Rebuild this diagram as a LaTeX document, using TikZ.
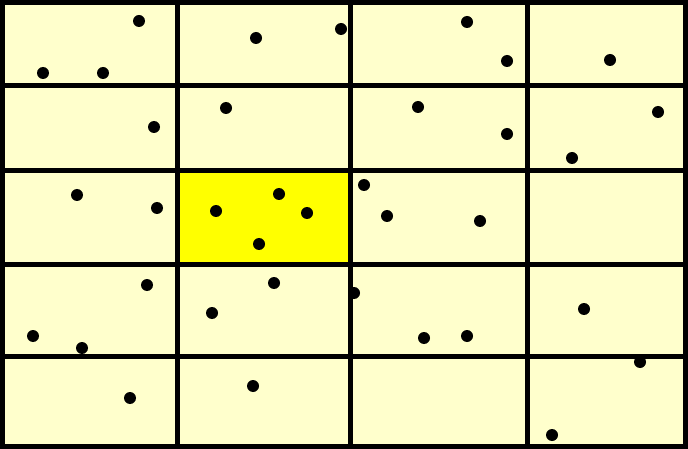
\documentclass[tikz,border=0pt]{standalone}
\begin{document}
\begin{tikzpicture}[x=1pt,y=-1pt,
  gridline/.style={line width=5pt,black},
  dot/.style={fill=black}]
\definecolor{paleyellow}{RGB}{255,255,204}
\definecolor{brightyellow}{RGB}{255,255,0}
\useasboundingbox (0,0) rectangle (688,449);
\fill[paleyellow] (0,0) rectangle (688,449);
\fill[brightyellow] (177,171) rectangle (350,264);
% grid
\foreach \x in {2.5,177.5,350,527,685.5} \draw[gridline] (\x,0) -- (\x,449);
\foreach \y in {2.5,86,171,264,356,446.5} \draw[gridline] (0,\y) -- (688,\y);
% dots
\foreach \p in {(139,21),(43,73),(103,73),(256,38),(341,29),(226,108),
  (467,22),(507,61),(610,60),(418,107),(507,134),(658,112),(572,158),
  (154,127),(77,195),(157,208),
  (216,211),(279,194),(307,213),(259,244),(364,185),
  (387,216),(480,221),
  (147,285),(33,336),(82,348),(274,283),(212,313),(354,293),(130,398),(253,386),
  (424,338),(467,336),(584,309),
  (640,362),(552,435)}
  \fill[dot] \p circle[radius=6];
\end{tikzpicture}
\end{document}
